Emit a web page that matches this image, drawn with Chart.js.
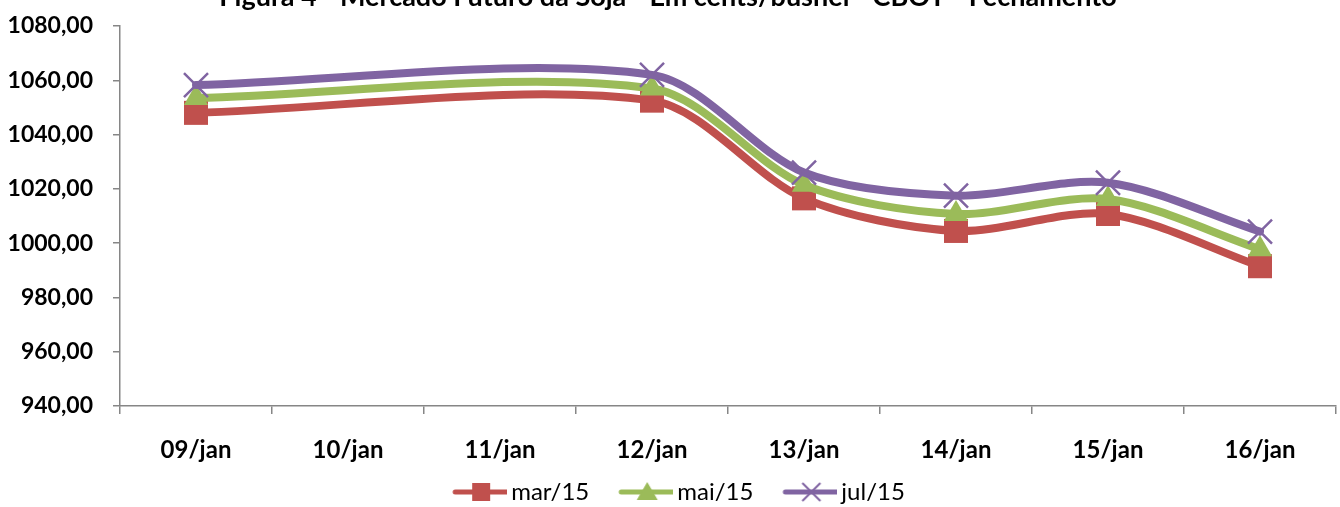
<!DOCTYPE html>
<html><head><meta charset="utf-8">
<script src="https://cdn.jsdelivr.net/npm/chart.js@4/dist/chart.umd.min.js"></script>
<style>
html,body{margin:0;padding:0;background:#fff;overflow:hidden;width:1340px;height:507px;}
#wrap{position:absolute;left:0;top:-20px;width:1340px;height:534px;}
</style></head><body>
<div id="wrap"><canvas id="c" width="1340" height="534"></canvas></div>
<script>
const TITLE = 'Figura 4 - Mercado Futuro da Soja - Em cents/bushel - CBOT - Fechamento';
const categories = ['09/jan','10/jan','11/jan','12/jan','13/jan','14/jan','15/jan','16/jan'];
const seriesNames = ['mar/15','mai/15','jul/15'];
const mar15 = [1048.00, null, null, 1052.50, 1016.50, 1004.50, 1010.75, 991.50];
const mai15 = [1053.50, null, null, 1057.00, 1021.50, 1010.75, 1016.25, 997.75];
const jul15 = [1058.25, null, null, 1062.00, 1026.00, 1017.50, 1022.25, 1004.25];
const yMin = 940, yMax = 1080, yStep = 20;

const FONT = 'Lato, "Open Sans", sans-serif';
const RED = '#C0504D', GREEN = '#9BBB59', PURPLE = '#8064A2';
const AXIS = '#868686';

function makeIcon(color, kind){
  const c = document.createElement('canvas');
  c.width = 84; c.height = 26;
  const g = c.getContext('2d');
  const o = 29;
  g.strokeStyle = color; g.lineWidth = 5; g.lineCap = 'round';
  g.beginPath(); g.moveTo(o+3,13); g.lineTo(o+55,13); g.stroke();
  g.fillStyle = color;
  if (kind === 'rect'){ g.fillRect(o+20,4,18,18); }
  else if (kind === 'triangle'){ g.beginPath(); g.moveTo(o+29,3); g.lineTo(o+39.5,21); g.lineTo(o+18.5,21); g.closePath(); g.fill(); }
  else { g.lineWidth = 2; g.lineCap='butt'; g.beginPath(); g.moveTo(o+20,4); g.lineTo(o+38,22); g.moveTo(o+38,4); g.lineTo(o+20,22); g.stroke(); }
  return c;
}
const icons = [makeIcon(RED,'rect'), makeIcon(GREEN,'triangle'), makeIcon(PURPLE,'cross')];

const common = {borderWidth: 8, tension: 0.3, spanGaps: true, fill: false, borderCapStyle: 'round', borderJoinStyle: 'round'};

new Chart(document.getElementById('c'), {
  type: 'line',
  data: {
    labels: categories,
    datasets: [
      Object.assign({label: seriesNames[0], data: mar15, borderColor: RED, backgroundColor: RED,
        pointStyle: 'rect', pointRadius: 17, pointBorderWidth: 0, pointBackgroundColor: RED, order: 2}, common),
      Object.assign({label: seriesNames[1], data: mai15, borderColor: GREEN, backgroundColor: GREEN,
        pointStyle: 'triangle', pointRadius: 14, pointBorderWidth: 0, pointBackgroundColor: GREEN, order: 1}, common),
      Object.assign({label: seriesNames[2], data: jul15, borderColor: PURPLE, backgroundColor: PURPLE,
        pointStyle: 'crossRot', pointRadius: 17, pointBorderWidth: 2.5, pointBorderColor: PURPLE, order: 0}, common)
    ]
  },
  options: {
    responsive: false, animation: false, devicePixelRatio: 1,
    layout: {autoPadding: false, padding: {left: 0, right: 4, top: 0, bottom: 0}},
    plugins: {
      tooltip: {enabled: false},
      title: {display: true, text: TITLE, color: '#000', font: {family: FONT, size: 27, weight: 'bold'},
        padding: {top: 1.2, bottom: 12.4}},
      legend: {
        position: 'bottom',
        labels: {
          usePointStyle: true, pointStyleWidth: 68, padding: 8, color: '#000',
          font: {family: FONT, size: 24},
          generateLabels: (chart) => chart.data.datasets.map((ds, i) => ({
            text: ds.label, pointStyle: icons[i], datasetIndex: i, hidden: false,
            fillStyle: ds.borderColor, strokeStyle: ds.borderColor, lineWidth: 0, fontColor: '#000'
          }))
        }
      }
    },
    scales: {
      x: {
        offset: true,
        grid: {display: true, offset: true, drawOnChartArea: false, drawTicks: true, tickLength: 8, color: AXIS, lineWidth: 1.5},
        border: {color: AXIS, width: 1.5},
        ticks: {color: '#000', font: {family: FONT, size: 24, weight: 'bold'}, padding: 22, maxRotation: 0},
        afterFit: (s) => { s.height = 66; s.paddingLeft = 0; s.paddingRight = 0; }
      },
      y: {
        min: yMin, max: yMax,
        grid: {display: true, drawOnChartArea: false, drawTicks: true, tickLength: 7, color: AXIS, lineWidth: 1.5},
        border: {color: AXIS, width: 1.5},
        ticks: {stepSize: yStep, color: '#000', font: {family: FONT, size: 23, weight: 'bold'}, padding: 20,
          callback: (v) => Number(v).toFixed(2).replace('.', ',')},
        afterFit: (s) => { s.width = 120; }
      }
    }
  }
});
</script>
</body></html>
